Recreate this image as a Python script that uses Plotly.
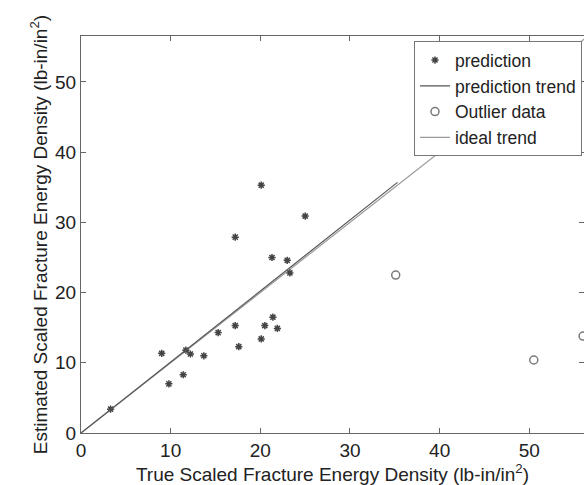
import plotly.graph_objects as go

# prediction points (true, estimated)
pred_true = [3.3, 9.0, 9.8, 11.4, 11.7, 12.2, 13.7, 15.3, 17.2, 17.6,
             17.2, 20.1, 20.5, 20.1, 21.4, 21.9, 21.3, 23.0, 23.3, 25.0]
pred_est = [3.4, 11.35, 7.0, 8.3, 11.8, 11.25, 11.0, 14.3, 15.3, 12.3,
            27.9, 13.4, 15.3, 35.3, 16.5, 14.9, 25.0, 24.6, 22.8, 30.9]

# outliers
out_true = [35.1, 50.5, 56.0]
out_est = [22.5, 10.4, 13.8]

# trend lines
trend_x = [0, 35.3]
trend_y = [0, 35.7]
ideal_x = [0, 56.5]
ideal_y = [0, 56.5]

font = "Liberation Sans, Arial, sans-serif"
fs = 19

fig = go.Figure()
fig.add_trace(go.Scatter(x=ideal_x, y=ideal_y, mode="lines", name="ideal trend",
                         line=dict(color="#9a9a9a", width=1.2), showlegend=False))
fig.add_trace(go.Scatter(x=pred_true, y=pred_est, mode="markers", name="prediction",
                         marker=dict(symbol="asterisk-open", size=6, color="#444444",
                                     line=dict(color="#444444", width=1.5))))
fig.add_trace(go.Scatter(x=trend_x, y=trend_y, mode="lines", name="prediction trend",
                         line=dict(color="#555555", width=1.2)))
fig.add_trace(go.Scatter(x=out_true, y=out_est, mode="markers", name="Outlier data",
                         marker=dict(symbol="circle-open", size=8, color="#7a7a7a",
                                     line=dict(color="#7a7a7a", width=1.5))))
fig.add_trace(go.Scatter(x=[None], y=[None], mode="lines", name="ideal trend",
                         line=dict(color="#9a9a9a", width=1.2)))

axis_common = dict(showgrid=False, zeroline=False, showline=True, mirror="ticks",
                   linecolor="#666666", linewidth=1, ticks="inside", ticklen=5,
                   tickcolor="#666666", tickfont=dict(family=font, size=fs, color="#222222"),
                   dtick=10)

fig.update_layout(
    width=584, height=485,
    margin=dict(l=81, r=0, t=36, b=52),
    paper_bgcolor="white", plot_bgcolor="white",
    font=dict(family=font, color="#222222"),
    xaxis=dict(range=[0, 56.1], tick0=0,
               title=dict(text="True Scaled Fracture Energy Density (lb-in/in<sup>2</sup>)",
                          font=dict(family=font, size=fs, color="#222222"), standoff=2),
               **axis_common),
    yaxis=dict(range=[0, 56.55], tick0=0,
               title=dict(text="Estimated Scaled Fracture Energy Density (lb-in/in<sup>2</sup>)",
                          font=dict(family=font, size=fs, color="#222222"), standoff=2),
               **axis_common),
    legend=dict(x=0.996, y=0.987, xanchor="right", yanchor="top",
                bgcolor="white", bordercolor="#777777", borderwidth=1,
                font=dict(family=font, size=17.5, color="#222222"),
                tracegroupgap=0, itemwidth=30),
)

fig.write_html("out.html")
